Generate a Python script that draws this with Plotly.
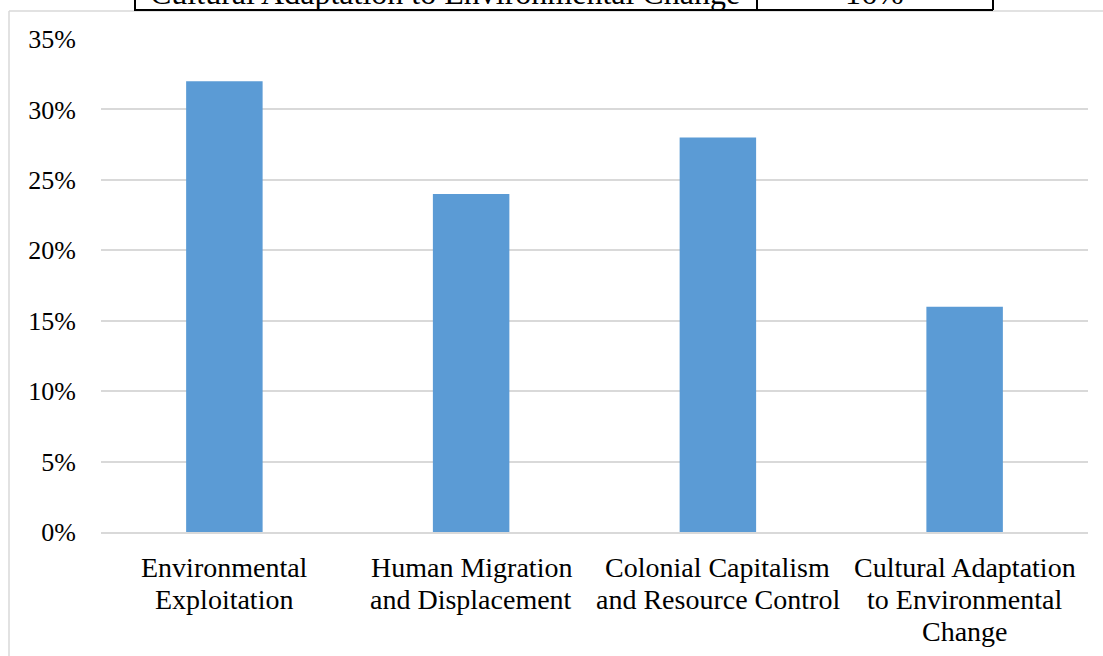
import plotly.graph_objects as go

# Survey themes and their share of responses
categories = [
    "Environmental<br>Exploitation",
    "Human Migration<br>and Displacement",
    "Colonial Capitalism<br>and Resource Control",
    "Cultural Adaptation<br>to Environmental<br>Change",
]
shares = [32, 24, 28, 16]
y_ticks = [0, 5, 10, 15, 20, 25, 30, 35]
y_tick_text = [f"{v}%" for v in y_ticks]

# Table row partly visible above the chart
table_label = "Cultural Adaptation to Environmental Change"
table_value = "16%"

W, H = 1103, 656
ML, MR, MT, MB = 101, 15, 39, 124
PW, PH = W - ML - MR, H - MT - MB


def px(x):
    return (x - ML) / PW


def py(y):
    return (H - MB - y) / PH


FONT = "Liberation Serif, Times New Roman, serif"
GRID = "#D9D9D9"

fig = go.Figure(
    go.Bar(
        x=categories,
        y=shares,
        marker=dict(color="#5B9BD5", line=dict(width=0)),
        hoverinfo="y",
    )
)

shapes = [
    # chart frame
    dict(type="line", xref="paper", yref="paper", x0=px(9), x1=px(W + 5),
         y0=py(11), y1=py(11), line=dict(color=GRID, width=1.5), layer="below"),
    dict(type="line", xref="paper", yref="paper", x0=px(9), x1=px(9),
         y0=py(11), y1=py(H + 5), line=dict(color=GRID, width=1.5), layer="below"),
    # table cell borders
    dict(type="line", xref="paper", yref="paper", x0=px(134), x1=px(993),
         y0=py(10), y1=py(10), line=dict(color="#000", width=2)),
    dict(type="line", xref="paper", yref="paper", x0=px(135), x1=px(135),
         y0=py(-5), y1=py(10), line=dict(color="#000", width=2)),
    dict(type="line", xref="paper", yref="paper", x0=px(757), x1=px(757),
         y0=py(-5), y1=py(10), line=dict(color="#000", width=2)),
    dict(type="line", xref="paper", yref="paper", x0=px(993), x1=px(993),
         y0=py(-5), y1=py(10), line=dict(color="#000", width=2)),
]

annotations = [
    dict(text=table_label, xref="paper", yref="paper", x=px(445), y=py(13),
         xanchor="center", yanchor="bottom", showarrow=False,
         font=dict(family=FONT, size=32, color="#000")),
    dict(text=table_value, xref="paper", yref="paper", x=px(874), y=py(13),
         xanchor="center", yanchor="bottom", showarrow=False,
         font=dict(family=FONT, size=32, color="#000")),
]

# Category labels under the axis, one line at a time for tight line spacing
LINE_Y0, LINE_STEP = 567, 32
for cat in categories:
    for i, line in enumerate(cat.split("<br>")):
        annotations.append(
            dict(text=line, xref="x", yref="paper", x=cat,
                 y=py(LINE_Y0 + i * LINE_STEP),
                 xanchor="center", yanchor="middle", showarrow=False,
                 font=dict(family=FONT, size=28, color="#000"))
        )

fig.update_layout(
    width=W,
    height=H,
    margin=dict(l=ML, r=MR, t=MT, b=MB),
    paper_bgcolor="white",
    plot_bgcolor="white",
    bargap=0.69,
    showlegend=False,
    shapes=shapes,
    annotations=annotations,
    font=dict(family=FONT, size=26, color="#000"),
    xaxis=dict(
        automargin=False,
        showgrid=False,
        showline=True,
        linecolor=GRID,
        linewidth=1.5,
        ticks="",
        showticklabels=False,
        fixedrange=True,
    ),
    yaxis=dict(
        automargin=False,
        range=[0, 35],
        tickvals=y_ticks,
        ticktext=y_tick_text,
        showgrid=True,
        gridcolor=GRID,
        gridwidth=1.5,
        zeroline=False,
        showline=False,
        ticks="",
        ticklabelstandoff=24,
        tickfont=dict(family=FONT, size=26, color="#000"),
        fixedrange=True,
    ),
)

fig.write_html("out.html", config={"displayModeBar": False})
